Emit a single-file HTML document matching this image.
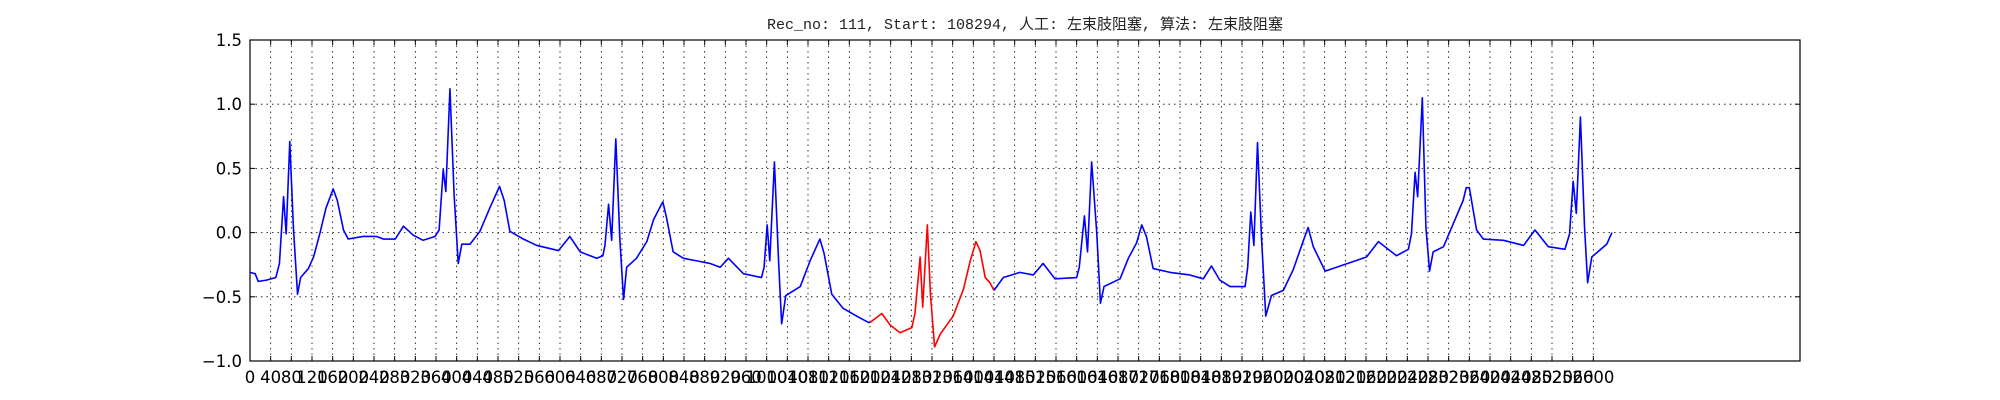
<!DOCTYPE html>
<html><head><meta charset="utf-8">
<style>
html,body{margin:0;padding:0;background:#fff;}
svg{display:block;}
text{font-family:"DejaVu Sans","Liberation Sans",sans-serif;}
</style></head>
<body>
<svg id="chart" width="2000" height="400" viewBox="0 0 2000 400" xmlns="http://www.w3.org/2000/svg">
<rect x="0" y="0" width="2000" height="400" fill="#fff"/>
<text x="1025" y="29" text-anchor="middle" font-size="15" fill="#222" style='font-family:"Liberation Mono","WenQuanYi Zen Hei",monospace'>Rec_no: 111, Start: 108294, 人工: 左束肢阻塞, 算法: 左束肢阻塞</text>
<g id="grid"></g>
<g id="series"></g>
<g id="ticks"></g>
<rect x="250" y="40" width="1550" height="321" fill="none" stroke="#000" stroke-width="1.2"/>
</svg>
<script>
const samples = [0,10,16,32,50,57,65,70,77,84,92,98,113,123,135,147,161,169,181,190,219,245,258,281,297,316,335,358,366,374,379,387,395,403,410,426,445,465,483,492,503,529,555,597,619,639,671,683,687,694,700,708,716,723,729,748,768,781,799,806,819,839,865,890,910,926,955,990,995,1001,1006,1015,1023,1029,1037,1065,1084,1103,1111,1126,1148,1174,1197,1200,1223,1239,1258,1281,1287,1297,1302,1311,1317,1325,1336,1361,1381,1394,1405,1413,1423,1432,1440,1458,1490,1516,1535,1558,1600,1605,1615,1621,1629,1639,1646,1653,1684,1700,1716,1726,1735,1748,1781,1819,1845,1861,1877,1897,1926,1931,1937,1943,1950,1958,1966,1977,2000,2019,2039,2048,2058,2081,2103,2161,2184,2219,2242,2248,2255,2260,2269,2276,2283,2290,2310,2329,2348,2354,2360,2374,2387,2426,2465,2487,2513,2545,2554,2561,2567,2575,2583,2589,2597,2626,2636];
const values = [-0.31,-0.32,-0.38,-0.37,-0.35,-0.24,0.28,-0.01,0.71,0.04,-0.48,-0.35,-0.28,-0.19,-0.01,0.19,0.34,0.25,0.02,-0.05,-0.03,-0.03,-0.05,-0.05,0.05,-0.02,-0.06,-0.03,0.02,0.49,0.32,1.12,0.30,-0.24,-0.09,-0.09,0.01,0.20,0.36,0.25,0.01,-0.05,-0.10,-0.14,-0.03,-0.15,-0.20,-0.18,-0.10,0.22,-0.06,0.73,-0.06,-0.52,-0.27,-0.20,-0.07,0.10,0.24,0.12,-0.15,-0.20,-0.22,-0.24,-0.27,-0.20,-0.32,-0.35,-0.27,0.06,-0.22,0.55,-0.22,-0.71,-0.49,-0.42,-0.22,-0.05,-0.16,-0.48,-0.59,-0.65,-0.70,-0.70,-0.63,-0.72,-0.78,-0.74,-0.63,-0.19,-0.58,0.06,-0.48,-0.89,-0.79,-0.65,-0.44,-0.22,-0.07,-0.14,-0.35,-0.39,-0.45,-0.35,-0.31,-0.33,-0.24,-0.36,-0.35,-0.27,0.13,-0.15,0.55,-0.01,-0.55,-0.42,-0.36,-0.20,-0.08,0.06,-0.03,-0.28,-0.31,-0.33,-0.36,-0.26,-0.37,-0.42,-0.42,-0.27,0.16,-0.10,0.70,-0.06,-0.65,-0.49,-0.45,-0.29,-0.06,0.04,-0.11,-0.30,-0.27,-0.19,-0.07,-0.18,-0.13,-0.01,0.47,0.28,1.05,0.04,-0.30,-0.15,-0.11,0.07,0.25,0.35,0.35,0.02,-0.05,-0.06,-0.10,0.02,-0.11,-0.13,-0.01,0.40,0.15,0.90,0.04,-0.39,-0.19,-0.09,0.00];
const redRange = [1200, 1440];
const yTicks = [-1.0,-0.5,0.0,0.5,1.0,1.5];
const yTickLabels = ["\u22121.0","\u22120.5","0.0","0.5","1.0","1.5"];
const xTickStep = 40;
const xTickMax = 2600;
const xDomain = [0, 3000];
const yDomain = [-1, 1.5];

const L=250,R=1800,T=40,B=361;
const NS="http://www.w3.org/2000/svg";
function xs(s){return L+(s-xDomain[0])/(xDomain[1]-xDomain[0])*(R-L);}
function ys(v){return B-(v-yDomain[0])/(yDomain[1]-yDomain[0])*(B-T);}
function mk(tag,attrs,parent){const e=document.createElementNS(NS,tag);for(const k in attrs)e.setAttribute(k,attrs[k]);parent.appendChild(e);return e;}
const grid=document.getElementById('grid'),ticks=document.getElementById('ticks'),series=document.getElementById('series');

for(let s=0;s<=xTickMax;s+=xTickStep){
  const x=xs(s);
  const g=mk('line',{x1:x,x2:x,y1:T,y2:B,stroke:'#000','stroke-width':0.8,'stroke-dasharray':'1.5,4'},grid);
  
  
  const t1=mk('line',{x1:x,x2:x,y1:B,y2:B-5,stroke:'#000','stroke-width':1},ticks);
  
  
  const t2=mk('line',{x1:x,x2:x,y1:T,y2:T+5,stroke:'#000','stroke-width':1},ticks);
  
  
  const lb=mk('text',{x:x,y:B+22,'text-anchor':'middle','font-size':16.5,fill:'#000'},ticks);
  lb.textContent=String(s);
  
  
}
yTicks.forEach((v,i)=>{
  const y=ys(v);
  const g=mk('line',{x1:L,x2:R,y1:y,y2:y,stroke:'#000','stroke-width':0.8,'stroke-dasharray':'1.5,4'},grid);
  
  
  const t1=mk('line',{x1:L,x2:L+5,y1:y,y2:y,stroke:'#000','stroke-width':1},ticks);
  
  
  const t2=mk('line',{x1:R,x2:R-5,y1:y,y2:y,stroke:'#000','stroke-width':1},ticks);
  
  
  const lb=mk('text',{x:L-8,y:y+6,'text-anchor':'end','font-size':16.5,fill:'#000'},ticks);
  lb.textContent=yTickLabels[i];
  
  
});

function pts(filter){
  const out=[];
  for(let i=0;i<samples.length;i++){ if(filter(samples[i])) out.push(xs(samples[i]).toFixed(2)+','+ys(values[i]).toFixed(2)); }
  return out.join(' ');
}
const b1=mk('polyline',{points:pts(s=>s<=redRange[0]),fill:'none',stroke:'#0000ff','stroke-width':1.6,'stroke-linejoin':'round'},series);


const rd=mk('polyline',{points:pts(s=>s>=redRange[0]&&s<=redRange[1]),fill:'none',stroke:'#ff0000','stroke-width':1.6,'stroke-linejoin':'round'},series);


const b2=mk('polyline',{points:pts(s=>s>=redRange[1]),fill:'none',stroke:'#0000ff','stroke-width':1.6,'stroke-linejoin':'round'},series);


</script>
</body></html>
